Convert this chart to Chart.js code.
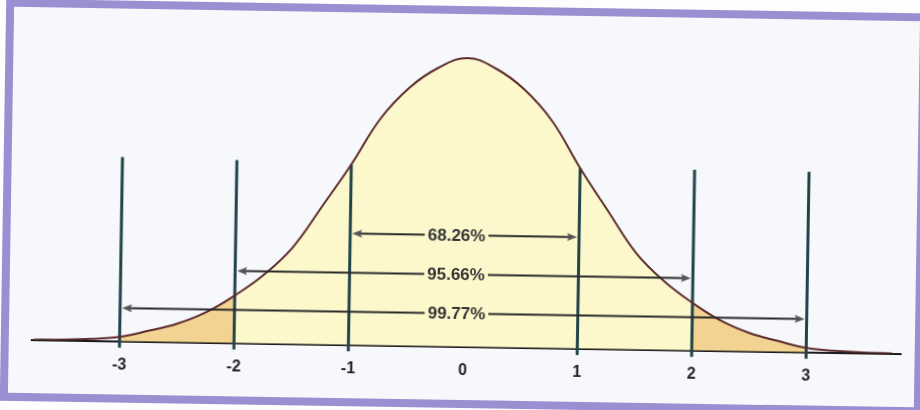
<!DOCTYPE html>
<html>
<head>
<meta charset="utf-8">
<script src="https://cdn.jsdelivr.net/npm/chart.js@4/dist/chart.umd.min.js"></script>
<style>
  html, body { margin: 0; padding: 0; background: #fdfdfe; overflow: hidden; }
  #wrap { position: absolute; left: 0; top: 0; width: 920px; height: 410px;
          transform: rotate(0.92deg); transform-origin: 460px 205px; }
  #frame { position: absolute; left: 3px; top: 6px; width: 922px; height: 402px;
           box-sizing: border-box; border: 8px solid #9a8fd0; background: #f7f8fb; }
  #c { position: absolute; left: 0; top: 0; }
</style>
</head>
<body>
<div id="wrap">
  <div id="frame"></div>
  <canvas id="c" width="920" height="410"></canvas>
</div>
<script>
// ---- data ----
const curveX = [-3.75,-3.5,-3.25,-3,-2.75,-2.5,-2.25,-2,-1.75,-1.5,-1.25,-1,-0.75,-0.5,-0.25,0,
                0.25,0.5,0.75,1,1.25,1.5,1.75,2,2.25,2.5,2.75,3,3.25,3.5,3.75];
const curveY = [0.001,0.003,0.007,0.016,0.038,0.064,0.105,0.165,0.238,0.335,0.478,0.625,0.786,0.895,0.965,1.0,
                0.965,0.895,0.786,0.625,0.478,0.335,0.238,0.165,0.105,0.064,0.038,0.016,0.007,0.003,0.001];
const tickValues = [-3,-2,-1,0,1,2,3];
const tickLabels = ['-3','-2','-1','0','1','2','3'];
const markerX   = [-3,-2,-1,1,2,3];
const markerTop = [0.638,0.634,0.625,0.625,0.626,0.625];
const markerBottom = -0.022;
const arrowLabels = ['68.26%','95.66%','99.77%'];
const arrowFrom   = [-1,-2,-3];
const arrowTo     = [1,2,3];
const arrowY      = [0.386,0.25,0.1156];
const arrowLabelX = [-0.07,-0.07,-0.06];
const xMin = -3.767, xMax = 3.826, yMax = 1.1;

// ---- colours ----
const curveColor = '#5b2a2c';
const centerFill = '#fdf8cc';
const tailFill = '#f2d392';
const markerColor = '#21444a';

const pts = curveX.map((x, i) => ({ x: x, y: curveY[i] }));
const between = (a, b) => pts.filter(p => p.x >= a && p.x <= b);
const TENSION = 0.4;

const datasets = [
  { data: pts, borderColor: curveColor, borderWidth: 2, fill: false, pointRadius: 0,
    tension: TENSION, order: 0 }
];
markerX.forEach((x, i) => {
  datasets.push({ data: [{ x: x, y: markerBottom }, { x: x, y: markerTop[i] }],
    borderColor: markerColor, borderWidth: 3, pointRadius: 0, fill: false, clip: false, order: 1 });
});
datasets.push({ data: between(-2, 2), borderWidth: 0, borderColor: 'rgba(0,0,0,0)', backgroundColor: centerFill,
  fill: 'origin', pointRadius: 0, tension: TENSION, order: 2 });
datasets.push({ data: between(-3, -2), borderWidth: 0, borderColor: 'rgba(0,0,0,0)', backgroundColor: tailFill,
  fill: 'origin', pointRadius: 0, tension: TENSION, order: 2 });
datasets.push({ data: between(2, 3), borderWidth: 0, borderColor: 'rgba(0,0,0,0)', backgroundColor: tailFill,
  fill: 'origin', pointRadius: 0, tension: TENSION, order: 2 });

const arrowPlugin = {
  id: 'arrows',
  afterDatasetsDraw(chart) {
    const { ctx, scales: { x, y } } = chart;
    ctx.save();
    ctx.font = 'bold 17px "Liberation Sans", Arial, sans-serif';
    ctx.textAlign = 'center';
    ctx.textBaseline = 'middle';
    arrowLabels.forEach((lab, i) => {
      const py = y.getPixelForValue(arrowY[i]);
      const x1 = x.getPixelForValue(arrowFrom[i]) + 2;
      const x2 = x.getPixelForValue(arrowTo[i]) - 2;
      const xc = x.getPixelForValue(arrowLabelX[i]);
      const w = ctx.measureText(lab).width;
      ctx.strokeStyle = '#2a2a2a';
      ctx.lineWidth = 2;
      ctx.beginPath();
      ctx.moveTo(x1 + 6, py); ctx.lineTo(xc - w / 2 - 3, py);
      ctx.moveTo(xc + w / 2 + 3, py); ctx.lineTo(x2 - 6, py);
      ctx.stroke();
      ctx.fillStyle = '#555';
      ctx.beginPath();
      ctx.moveTo(x1, py); ctx.lineTo(x1 + 10, py - 4); ctx.lineTo(x1 + 8, py); ctx.lineTo(x1 + 10, py + 4); ctx.closePath();
      ctx.fill();
      ctx.beginPath();
      ctx.moveTo(x2, py); ctx.lineTo(x2 - 10, py - 4); ctx.lineTo(x2 - 8, py); ctx.lineTo(x2 - 10, py + 4); ctx.closePath();
      ctx.fill();
      ctx.fillStyle = '#333';
      ctx.fillText(lab, xc, py + 1);
    });
    ctx.restore();
  }
};

new Chart(document.getElementById('c'), {
  type: 'line',
  data: { datasets: datasets },
  options: {
    responsive: false,
    animation: false,
    devicePixelRatio: 1,
    layout: { padding: { left: 34, right: 17, top: 29, bottom: 16 } },
    plugins: { legend: { display: false }, tooltip: { enabled: false } },
    scales: {
      x: {
        type: 'linear', min: xMin, max: xMax,
        grid: { display: false, drawTicks: false },
        border: { display: true, color: '#1c1c1c', width: 2 },
        afterBuildTicks: (scale) => { scale.ticks = tickValues.map(v => ({ value: v })); },
        ticks: {
          padding: 14, color: '#222',
          font: { family: '"Liberation Sans", Arial, sans-serif', size: 16, weight: 'bold' },
          callback: (v) => { const k = tickValues.indexOf(v); return k >= 0 ? tickLabels[k] : ''; },
          maxRotation: 0, autoSkip: false
        }
      },
      y: { type: 'linear', min: 0, max: yMax, display: false }
    }
  },
  plugins: [arrowPlugin]
});
</script>
</body>
</html>
